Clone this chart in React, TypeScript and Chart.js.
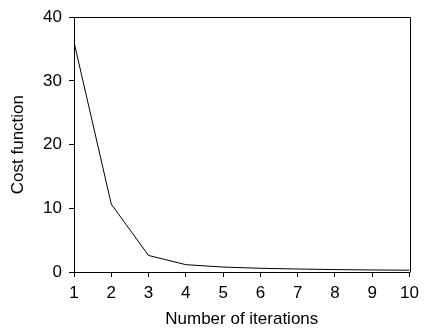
import React, { useEffect, useRef } from "react";
import { Chart, registerables } from "chart.js";

Chart.register(...registerables);

const iterations = [1, 2, 3, 4, 5, 6, 7, 8, 9, 10];
const costValues = [36.1, 10.65, 2.6, 1.15, 0.78, 0.58, 0.47, 0.38, 0.32, 0.28];
const xTitle = "Number of iterations";
const yTitle = "Cost function";

const FONT = "'Liberation Sans Narrow', 'Arial Narrow', 'Liberation Sans', Arial, sans-serif";

const boxPlugin = {
  id: "boxPlugin",
  afterDraw(chart: any) {
    const { ctx, chartArea } = chart;
    ctx.save();
    ctx.strokeStyle = "#000";
    ctx.lineWidth = 1;
    const l = Math.round(chartArea.left) + 0.5;
    const t = Math.round(chartArea.top) + 0.5;
    const r = Math.round(chartArea.right) + 0.5;
    const b = Math.round(chartArea.bottom) + 0.5;
    ctx.beginPath();
    ctx.moveTo(l, t);
    ctx.lineTo(r, t);
    ctx.lineTo(r, b);
    ctx.stroke();
    ctx.restore();
  },
};

export default function App() {
  const ref = useRef<HTMLCanvasElement | null>(null);

  useEffect(() => {
    if (!ref.current) return;
    const chart = new Chart(ref.current, {
      type: "line",
      data: {
        datasets: [
          {
            data: iterations.map((x, i) => ({ x, y: costValues[i] })),
            borderColor: "#000",
            borderWidth: 1,
            pointRadius: 0,
            fill: false,
            tension: 0,
          },
        ],
      },
      options: {
        animation: false,
        responsive: false,
        devicePixelRatio: 1,
        layout: { padding: { left: 0, top: 15, right: 9, bottom: 0 } },
        plugins: { legend: { display: false }, tooltip: { enabled: false } },
        scales: {
          x: {
            type: "linear",
            min: 1,
            max: 10,
            afterFit: (s: any) => {
              s.height = 59;
            },
            ticks: {
              stepSize: 1,
              color: "#000",
              padding: 6,
              font: { family: FONT, size: 17, lineHeight: 1.2 },
            },
            grid: { drawOnChartArea: false, tickLength: 5, color: "#000", tickWidth: 1 },
            border: { display: true, color: "#000", width: 1 },
            title: {
              display: true,
              text: xTitle,
              color: "#000",
              font: { family: FONT, size: 17, lineHeight: 1.2 },
              padding: { top: 0, bottom: 1 },
            },
          },
          y: {
            type: "linear",
            min: 0,
            max: 40,
            afterFit: (s: any) => {
              s.width = 74;
            },
            ticks: {
              stepSize: 10,
              color: "#000",
              padding: 7,
              font: { family: FONT, size: 17, lineHeight: 1.2 },
            },
            grid: { drawOnChartArea: false, tickLength: 5, color: "#000", tickWidth: 1 },
            border: { display: true, color: "#000", width: 1 },
            title: {
              display: true,
              text: yTitle,
              color: "#000",
              font: { family: FONT, size: 17, lineHeight: 1.2 },
              padding: { top: 8, bottom: 0 },
            },
          },
        },
      },
      plugins: [boxPlugin],
    });
    return () => chart.destroy();
  }, []);

  return (
    <div style={{ position: "absolute", left: 0, top: 0, width: 425, height: 331 }}>
      <canvas ref={ref} width={425} height={331} style={{ display: "block" }} />
    </div>
  );
}
